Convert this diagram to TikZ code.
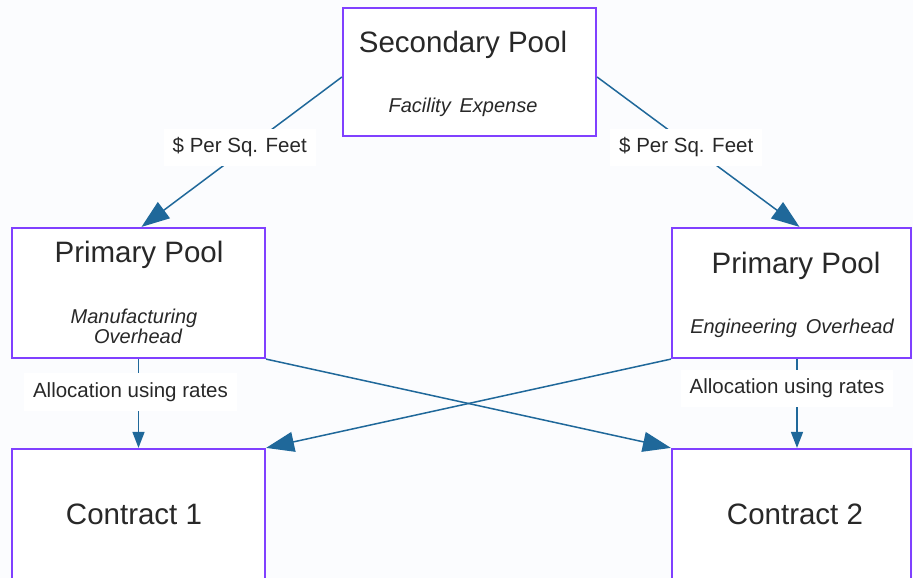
\documentclass[tikz,border=0pt]{standalone}
\usepackage{fontspec}
\setmainfont{Liberation Sans}
\usetikzlibrary{arrows.meta}
\definecolor{boxc}{RGB}{128,64,255}
\definecolor{arrc}{RGB}{31,104,154}
\definecolor{txtc}{RGB}{40,40,40}
\definecolor{bgc}{RGB}{251,252,254}
\tikzset{
  poolbox/.style={draw=boxc, line width=2.2pt, fill=white, rectangle, inner sep=0pt},
  big/.style={font=\fontsize{29.5}{32}\selectfont, text=txtc, inner sep=0pt},
  sub/.style={font=\fontsize{20}{23}\selectfont\itshape, text=txtc, inner sep=0pt, align=center},
  lab/.style={font=\fontsize{20.5}{23}\selectfont, text=txtc, fill=white, inner xsep=9pt, inner ysep=9pt},
  arr/.style={draw=arrc, line width=1.5pt, -{Triangle[length=28pt,width=20pt]}},
  varr/.style={draw=arrc, line width=1.5pt, -{Triangle[length=16pt,width=12pt]}}
}
\begin{document}
\begin{tikzpicture}[x=1pt,y=-1pt]
\useasboundingbox (0,0) rectangle (913,578);
\clip (0,0) rectangle (913,578);
\fill[bgc] (0,0) rectangle (913,578);
% boxes
\node[poolbox, minimum width=253pt, minimum height=128pt] (sec) at (469.5,72) {};
\node[poolbox, minimum width=253pt, minimum height=130pt] (p1) at (138.5,293) {};
\node[poolbox, minimum width=239pt, minimum height=130pt] (p2) at (791.5,293) {};
\node[poolbox, minimum width=253pt, minimum height=134pt] (c1) at (138.5,516) {};
\node[poolbox, minimum width=239pt, minimum height=134pt] (c2) at (791.5,516) {};
% texts
\node[big] (secT) at (463,45) {Secondary Pool};
\node[sub] (secS) at (463,107) {Facility\, Expense};
\node[big] (p1T) at (139,255) {Primary Pool};
\node[sub] (p1S) at (134,326) {Manufacturing\\[-3pt]\hspace*{8pt}Overhead};
\node[big] (p2T) at (796,266) {Primary Pool};
\node[sub] (p2S) at (792,328) {Engineering\, Overhead};
\node[big] (c1T) at (134,514) {Contract 1};
\node[big] (c2T) at (795,514) {Contract 2};
% connectors
\draw[arr] ([yshift=-5pt]sec.west) -- ([xshift=3pt]p1.north)
  node[lab, pos=0.47, xshift=-8pt] (l1) {\$ Per Sq. Feet};
\draw[arr] ([yshift=-5pt]sec.east) -- ([xshift=8pt]p2.north)
  node[lab, pos=0.47, xshift=-6pt] (l2) {\$ Per Sq. Feet};
\draw[arr] (p1.south east) -- (c2.north west);
\draw[arr] (p2.south west) -- (c1.north east);
\draw[varr] (p1.south) -- (c1.north)
  node[lab, pos=0.37, xshift=-8pt] (l3) {Allocation using rates};
\draw[varr] ([xshift=5.5pt]p2.south) -- ([xshift=5.5pt]c2.north)
  node[lab, pos=0.33, xshift=-10pt] (l4) {Allocation using rates};
\end{tikzpicture}
\end{document}
